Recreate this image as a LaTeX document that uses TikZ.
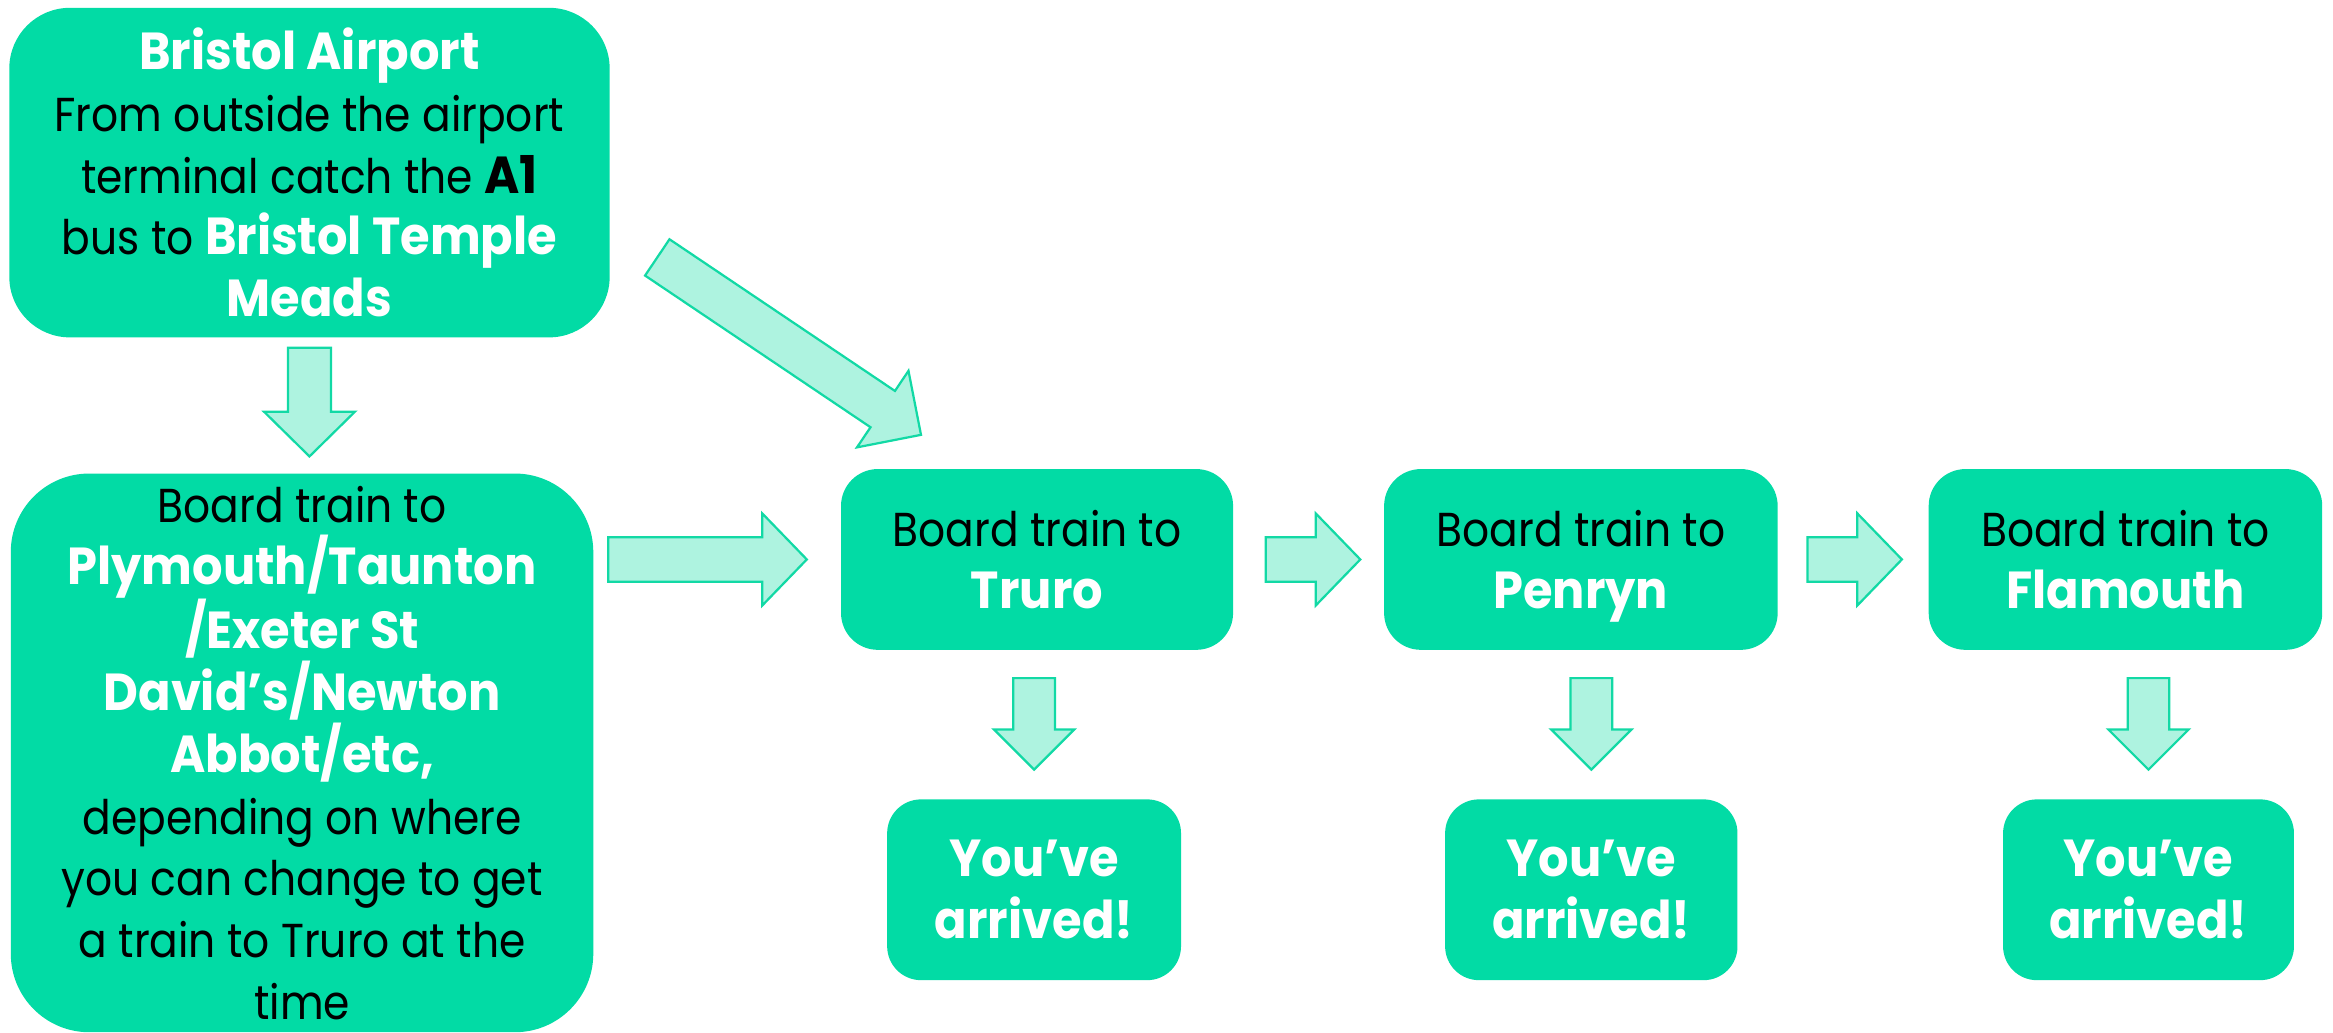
\documentclass[tikz,border=0pt]{standalone}
\usepackage{fontspec}
\setmainfont{Poppins}[FakeStretch=0.89, BoldFeatures={FakeStretch=0.92}]
\usetikzlibrary{calc}
\definecolor{boxg}{HTML}{02DBA5}
\definecolor{arrf}{HTML}{AEF3E0}
\definecolor{arrd}{HTML}{12D9A5}
\newcommand\wb[1]{{\fontsize{35}{41.5}\selectfont\color{white}\bfseries #1}}
\newcommand\kb[1]{{\fontsize{35}{41.5}\selectfont\bfseries #1}}
\newcommand\blockarrow[5]{%
  \coordinate (ba-h) at ($(#2)!#5!(#1)$);
  \draw[blockarr] ($(#1)!#3!90:(#2)$) -- ($(ba-h)!#3!90:(#2)$) -- ($(ba-h)!#4!90:(#2)$) -- (#2)
    -- ($(ba-h)!#4!-90:(#2)$) -- ($(ba-h)!#3!-90:(#2)$) -- ($(#1)!#3!-90:(#2)$) -- cycle;}
\tikzset{
  card/.style={rectangle, fill=boxg, draw=boxg, line width=1.5pt, align=center, inner sep=0pt,
    text=black, font=\fontsize{32}{41.5}\selectfont},
  blockarr/.style={fill=arrf, draw=arrd, line width=1.5pt, line join=miter},
}
\begin{document}
\begin{tikzpicture}[x=1pt,y=-1pt]
\useasboundingbox (0,0) rectangle (1568,694);
\node[card, rounded corners=40pt, minimum width=402pt, minimum height=220pt] (A) at (208,116)
  {\wb{Bristol Airport}\\From outside the airport\\terminal catch the \kb{A1}\\bus to \wb{Bristol Temple}\\\wb{Meads}};
\node[card, rounded corners=52pt, minimum width=390pt, minimum height=374pt] (B) at (203,506)
  {Board train to\\\wb{Plymouth/Taunton}\\\wb{/Exeter St}\\\wb{David’s/Newton}\\\wb{Abbot/etc,}\\depending on where\\you can change to get\\a train to Truro at the\\time};
\node[card, rounded corners=24pt, minimum width=262pt, minimum height=120pt] (Tr) at (697,376) {Board train to\\\wb{Truro}};
\node[card, rounded corners=24pt, minimum width=263pt, minimum height=120pt] (Pe) at (1062.5,376) {Board train to\\\raisebox{0pt}[\height][0pt]{\wb{Penryn}}};
\node[card, rounded corners=24pt, minimum width=263pt, minimum height=120pt] (Fl) at (1428.5,376) {Board train to\\\wb{Flamouth}};
\node[card, rounded corners=22pt, minimum width=196pt, minimum height=120pt] (Y1) at (695,598) {\wb{You’ve}\\\wb{arrived!}};
\node[card, rounded corners=22pt, minimum width=195pt, minimum height=120pt] (Y2) at (1069.5,598) {\wb{You’ve}\\\wb{arrived!}};
\node[card, rounded corners=22pt, minimum width=194pt, minimum height=120pt] (Y3) at (1444,598) {\wb{You’ve}\\\wb{arrived!}};
% arrows
\coordinate (a1) at ([yshift=-7pt]A.south);
\coordinate (a2) at ([yshift=-80pt]A.south);
\blockarrow{a1}{a2}{14.5pt}{30.5pt}{30pt}
\coordinate (b1) at ($(B.east|-Tr.west)+(10,0)$);
\coordinate (b2) at ([xshift=-23pt]Tr.west);
\blockarrow{b1}{b2}{15pt}{31pt}{30pt}
\coordinate (c1) at ([shift={(32pt,-57pt)}]A.east);
\coordinate (c2) at ([shift={(-78pt,23pt)}]Tr.north);
\blockarrow{c1}{c2}{14.7pt}{31pt}{31pt}
\coordinate (d1) at ([xshift=22pt]Tr.east);
\coordinate (d2) at ([xshift=-16pt]Pe.west);
\blockarrow{d1}{d2}{15pt}{31pt}{30pt}
\coordinate (e1) at ([xshift=20pt]Pe.east);
\coordinate (e2) at ([xshift=-18pt]Fl.west);
\blockarrow{e1}{e2}{15pt}{31pt}{30pt}
\coordinate (f1) at ($(Y1.north|-Tr.south)+(0,19)$);
\coordinate (f2) at ([yshift=20pt]Y1.north);
\blockarrow{f1}{f2}{14pt}{27pt}{27pt}
\coordinate (g1) at ($(Y2.north|-Pe.south)+(0,19)$);
\coordinate (g2) at ([yshift=20pt]Y2.north);
\blockarrow{g1}{g2}{14pt}{27pt}{27pt}
\coordinate (h1) at ($(Y3.north|-Fl.south)+(0,19)$);
\coordinate (h2) at ([yshift=20pt]Y3.north);
\blockarrow{h1}{h2}{14pt}{27pt}{27pt}
\end{tikzpicture}
\end{document}
